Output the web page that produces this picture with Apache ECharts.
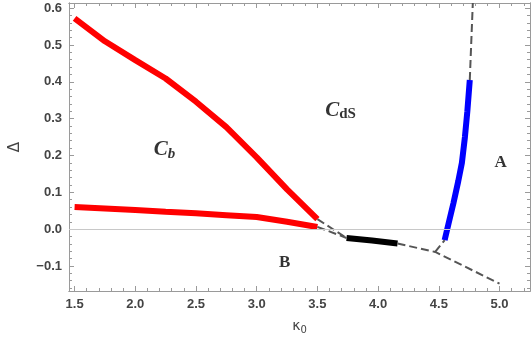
<!DOCTYPE html>
<html>
<head>
<meta charset="utf-8">
<script src="https://cdn.jsdelivr.net/npm/echarts@6/dist/echarts.min.js"></script>
<style>
  html, body { margin: 0; padding: 0; background: #fff; }
  #chart { width: 532px; height: 342px; }
</style>
</head>
<body>
<div id="chart"></div>
<script>
// axis ranges and ticks
var xMin = 1.454, xMax = 5.251;
var yMin = -0.168, yMax = 0.614;
var xMajor = [1.5, 2.0, 2.5, 3.0, 3.5, 4.0, 4.5, 5.0];
var yMajor = [-0.1, 0.0, 0.1, 0.2, 0.3, 0.4, 0.5, 0.6];

// red boundaries of C_b
var kappaRed = [1.5, 1.75, 2.0, 2.25, 2.5, 2.75, 3.0, 3.25, 3.5];
var deltaRedUpper = [0.572, 0.510, 0.459, 0.409, 0.346, 0.277, 0.195, 0.108, 0.027];
var deltaRedLower = [0.060, 0.056, 0.052, 0.047, 0.043, 0.038, 0.033, 0.020, 0.006];

// black segment
var kappaBlack = [3.74, 3.95, 4.16];
var deltaBlack = [-0.024, -0.031, -0.039];

// blue boundary
var kappaBlue = [4.548, 4.58, 4.62, 4.66, 4.69, 4.715, 4.735, 4.755];
var deltaBlue = [-0.030, 0.015, 0.070, 0.130, 0.180, 0.250, 0.320, 0.405];

// dashed gray pieces
var dashA = { k: [3.5, 3.74], d: [0.027, -0.024] };
var dashB = { k: [3.5, 3.74], d: [0.006, -0.024] };
var dashC = { k: [4.16, 4.47, 5.0], d: [-0.039, -0.062, -0.148] };
var dashD = { k: [4.47, 4.548], d: [-0.062, -0.030] };
var dashE = { k: [4.755, 4.78], d: [0.405, 0.614] };

// region labels
var regionNames = ['Cb', 'CdS', 'B', 'A'];
var regionKappa = [2.24, 3.69, 3.23, 5.01];
var regionDelta = [0.215, 0.322, -0.09, 0.18];

function pairs(k, d) {
    return k.map(function (v, i) { return [v, d[i]]; });
}

function minors(from, to, step, majors) {
    var out = [];
    for (var v = from; v <= to + 1e-9; v += step) {
        var r = Math.round(v * 1000) / 1000;
        var isMajor = majors.some(function (m) { return Math.abs(m - r) < 1e-6; });
        if (!isMajor) out.push(r);
    }
    return out;
}
var xMinor = minors(1.5, 5.2, 0.1, xMajor);
var yMinor = minors(-0.16, 0.6, 0.02, yMajor);

var frameColor = '#9a9a9a';
var labelStyle = {
    color: '#444', fontSize: 13, fontWeight: 'bold', fontFamily: 'Liberation Sans'
};

function xAx(pos, ticks, len, showLabel, extra) {
    var a = {
        type: 'value', min: xMin, max: xMax, position: pos,
        axisLine: { show: true, onZero: false, lineStyle: { color: frameColor, width: 1 } },
        axisTick: { show: true, inside: true, length: len, customValues: ticks, lineStyle: { color: frameColor } },
        axisLabel: showLabel ? Object.assign({ customValues: ticks, margin: 7, formatter: function (v) { return v.toFixed(1); } }, labelStyle) : { show: false },
        splitLine: { show: false }
    };
    return Object.assign(a, extra || {});
}
function yAx(pos, ticks, len, showLabel, extra) {
    var a = {
        type: 'value', min: yMin, max: yMax, position: pos,
        axisLine: { show: true, onZero: false, lineStyle: { color: frameColor, width: 1 } },
        axisTick: { show: true, inside: true, length: len, customValues: ticks, lineStyle: { color: frameColor } },
        axisLabel: showLabel ? Object.assign({ customValues: ticks, margin: 7, formatter: function (v) { return v.toFixed(1).replace('-', '\u2212'); } }, labelStyle) : { show: false },
        splitLine: { show: false }
    };
    return Object.assign(a, extra || {});
}

var chart = echarts.init(document.getElementById('chart'));

function thick(data, color) {
    return {
        type: 'line', data: data, symbol: 'none', silent: true, clip: false,
        lineStyle: { color: color, width: 6, cap: 'butt' }, z: 3
    };
}
function dashed(p) {
    return {
        type: 'line', data: pairs(p.k, p.d), symbol: 'none', silent: true, clip: false,
        lineStyle: { color: '#555', width: 2, type: [8, 4] }, z: 4
    };
}

var richLabels = {
    ci: { fontFamily: 'Liberation Serif', fontStyle: 'italic', fontWeight: 'bold', fontSize: 21, color: '#000' },
    si: { fontFamily: 'Liberation Serif', fontStyle: 'italic', fontWeight: 'bold', fontSize: 15, color: '#000', padding: [8, 0, 0, 0] },
    sn: { fontFamily: 'Liberation Serif', fontWeight: 'bold', fontSize: 15, color: '#000', padding: [8, 0, 0, 0] },
    up: { fontFamily: 'Liberation Serif', fontWeight: 'bold', fontSize: 17, color: '#000' }
};
var formats = { Cb: '{ci|C}{si|b}', CdS: '{ci|C}{sn|dS}', B: '{up|B}', A: '{up|A}' };

var option = {
    animation: false,
    backgroundColor: '#fff',
    grid: { left: 61, right: 2, top: 3, bottom: 51, containLabel: false },
    xAxis: [
        xAx('bottom', xMajor, 5, true, {
            name: '{k|\u03ba}{s|0}', nameLocation: 'middle', nameGap: 27,
            nameTextStyle: { rich: {
                k: { fontFamily: 'DejaVu Sans', fontSize: 14, color: '#444' },
                s: { fontFamily: 'DejaVu Sans', fontSize: 10, color: '#444', padding: [7, 0, 0, 0] }
            } }
        }),
        xAx('bottom', xMinor, 3, false),
        xAx('top', xMajor, 5, false),
        xAx('top', xMinor, 3, false)
    ],
    yAxis: [
        yAx('left', yMajor, 5, true, {
            name: '\u0394', nameLocation: 'middle', nameGap: 46,
            nameTextStyle: { fontFamily: 'DejaVu Sans', fontSize: 15, color: '#444' }
        }),
        yAx('left', yMinor, 3, false),
        yAx('right', yMajor, 5, false),
        yAx('right', yMinor, 3, false)
    ],
    series: [
        {
            type: 'line', data: [], silent: true,
            markLine: {
                silent: true, symbol: 'none', label: { show: false },
                lineStyle: { color: '#c8c8c8', width: 1.2, type: 'solid' },
                data: [{ yAxis: 0 }]
            }
        },
        thick(pairs(kappaRed, deltaRedUpper), '#ff0000'),
        thick(pairs(kappaRed, deltaRedLower), '#ff0000'),
        thick(pairs(kappaBlack, deltaBlack), '#000000'),
        thick(pairs(kappaBlue, deltaBlue), '#0000ff'),
        dashed(dashA), dashed(dashB), dashed(dashC), dashed(dashD), dashed(dashE),
        {
            type: 'scatter', symbolSize: 0, silent: true, z: 5,
            data: regionNames.map(function (n, i) {
                return { value: [regionKappa[i], regionDelta[i]], name: n };
            }),
            label: {
                show: true, position: 'inside',
                formatter: function (p) { return formats[p.name]; },
                rich: richLabels
            }
        }
    ]
};

chart.setOption(option);
</script>
</body>
</html>
